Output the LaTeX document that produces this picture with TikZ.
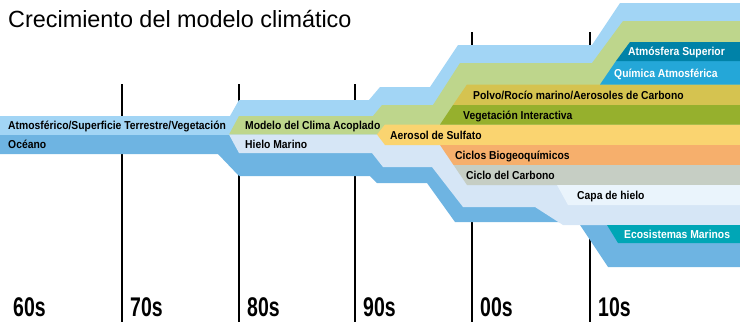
\documentclass[tikz,border=0pt]{standalone}
\usepackage{fontspec}
\setmainfont{Liberation Sans}
\newfontfamily\condfont{Liberation Sans}[FakeStretch=0.9]
\newfontfamily\decfont{Liberation Sans}[FakeStretch=0.72]
\usepackage{tikz}
\usetikzlibrary{positioning}

\definecolor{atmos}{RGB}{162,213,245}
\definecolor{oceano}{RGB}{110,180,226}
\definecolor{acoplado}{RGB}{190,214,140}
\definecolor{hielomar}{RGB}{214,230,246}
\definecolor{sulfato}{RGB}{250,212,112}
\definecolor{polvo}{RGB}{213,195,80}
\definecolor{vegeta}{RGB}{150,176,45}
\definecolor{biogeo}{RGB}{246,175,108}
\definecolor{carbono}{RGB}{198,206,196}
\definecolor{capa}{RGB}{234,244,252}
\definecolor{ecosis}{RGB}{0,166,182}
\definecolor{quimica}{RGB}{36,167,216}
\definecolor{atmsup}{RGB}{0,130,168}

\begin{document}
\begin{tikzpicture}[x=1pt,y=-1pt,
    etiqueta/.style={anchor=base west, inner sep=0pt, font=\condfont\bfseries\fontsize{11.5}{12}\selectfont},
    blanca/.style={etiqueta, text=white},
    decada/.style={anchor=base west, inner sep=0pt, font=\decfont\bfseries\fontsize{27}{30}\selectfont},
    linea/.style={line width=2pt}]
        \useasboundingbox (0,0) rectangle (740,322);

        % lineas de decada
        \foreach \x/\t in {122/84,239/84,355/84,472/32,590/32}
            \draw[linea] (\x,\t) -- (\x,322);

        % bandas de fondo
        \fill[atmos] (0,116) -- (230,116) -- (239,100) -- (369,100) -- (380,87) -- (430,87) -- (458,45) -- (592,45) -- (620,3) -- (740,3) -- (740,140) -- (0,140) -- cycle; % atmosfera
        \fill[oceano] (0,135) -- (740,135) -- (740,267) -- (608,267) -- (578,222) -- (455,222) -- (427,183) -- (377,183) -- (370,176) -- (239,176) -- (218,154) -- (0,154) -- cycle; % oceano
        \fill[acoplado] (229,134.5) -- (239,116) -- (373,116) -- (382,105) -- (433,105) -- (460,63) -- (592,63) -- (623,21) -- (740,21) -- (740,134.5) -- cycle; % clima acoplado
        \fill[hielomar] (229,134.5) -- (740,134.5) -- (740,225) -- (563,225) -- (535,207) -- (463,207) -- (432,167) -- (383,167) -- (372,153) -- (239,153) -- cycle; % hielo marino

        % bandas nuevas
        \fill[sulfato] (377,134.5) -- (385,124.5) -- (740,124.5) -- (740,145) -- (385,145) -- cycle; % sulfato
        \fill[polvo] (453,105) -- (467,84.5) -- (740,84.5) -- (740,105) -- cycle; % polvo
        \fill[vegeta] (440,124.5) -- (453,105) -- (740,105) -- (740,124.5) -- cycle; % vegetacion
        \fill[biogeo] (440,145) -- (740,145) -- (740,165) -- (453.5,165) -- cycle; % ciclos
        \fill[carbono] (453.5,165) -- (740,165) -- (740,185) -- (467,185) -- cycle; % carbono
        \fill[capa] (557,185) -- (740,185) -- (740,205) -- (568,205) -- cycle; % capa de hielo
        \fill[ecosis] (607,225) -- (740,225) -- (740,243) -- (618,243) -- cycle; % ecosistemas
        \fill[quimica] (600,84.5) -- (616,61) -- (740,61) -- (740,84.5) -- cycle; % quimica
        \fill[atmsup] (616,61) -- (630,42) -- (740,42) -- (740,61) -- cycle; % atmosfera superior

        % textos
        \node[anchor=base west, inner sep=0pt, font=\fontsize{23.4}{26}\selectfont] (titulo) at (8,27) {Crecimiento del modelo climático};
        \node[etiqueta] (atm) at (8,129.5) {Atmosférico/Superficie Terrestre/Vegetación};
        \node[etiqueta] (oce) at (8,148.5) {Océano};
        \node[etiqueta] (aco) at (245,129.3) {Modelo del Clima Acoplado};
        \node[etiqueta] (hma) at (245,148) {Hielo Marino};
        \node[etiqueta] (sul) at (390,139) {Aerosol de Sulfato};
        \node[etiqueta] (pol) at (473,99) {Polvo/Rocío marino/Aerosoles de Carbono};
        \node[etiqueta] (veg) at (463,119) {Vegetación Interactiva};
        \node[etiqueta] (bio) at (455,159) {Ciclos Biogeoquímicos};
        \node[etiqueta] (car) at (466,179) {Ciclo del Carbono};
        \node[etiqueta] (cap) at (577,199) {Capa de hielo};
        \node[blanca] (eco) at (624,238) {Ecosistemas Marinos};
        \node[blanca] (sup) at (628,55.5) {Atmósfera Superior};
        \node[blanca] (qui) at (614,77) {Química Atmosférica};

        % decadas
        \foreach \x/\d in {13/60s,130/70s,247/80s,363/90s,480/00s,598/10s}
            \node[decada] (d\d) at (\x,316) {\d};
\end{tikzpicture}
\end{document}
